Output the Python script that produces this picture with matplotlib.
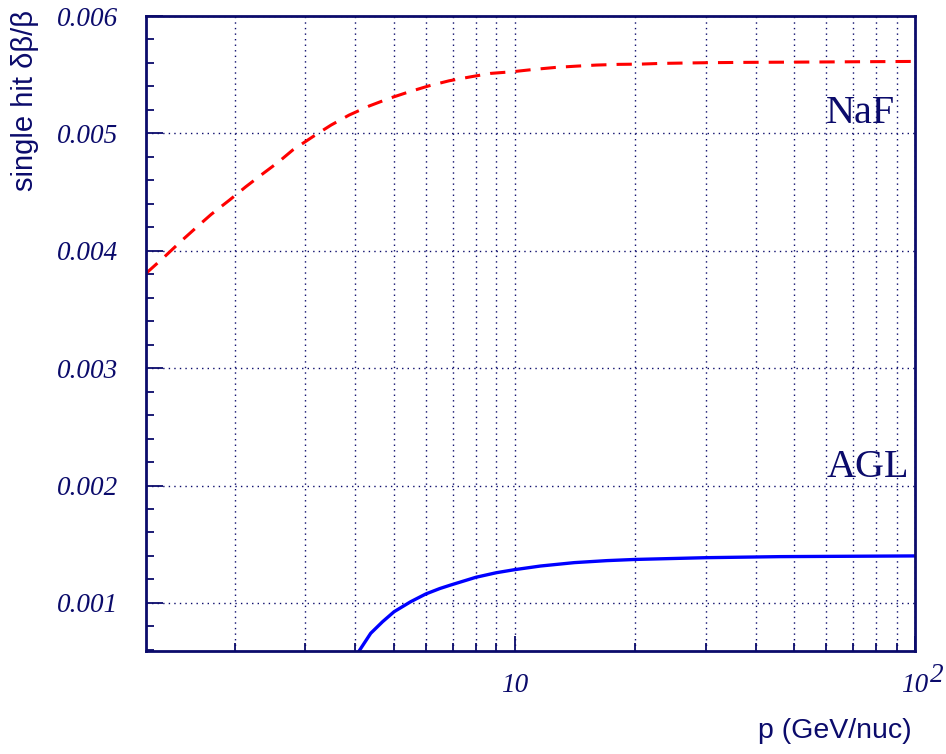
import matplotlib
matplotlib.use("Agg")
import matplotlib.pyplot as plt
from matplotlib.ticker import NullFormatter

# Data
naf_p = [1.2, 1.335, 1.47, 1.6, 1.746, 1.94, 2.13, 2.326, 2.575, 2.79, 3.13, 3.48, 3.86, 4.33,
         4.86, 5.45, 6.11, 6.86, 7.77, 8.71, 9.86, 11.17, 12.66, 14.3, 16.0, 18.2, 20.6, 23.1,
         26.2, 30.0, 37.7, 50.4, 70.0, 100.0]
naf_res = [0.003807, 0.003949, 0.004083, 0.004196, 0.004310, 0.004432, 0.004545, 0.004645,
           0.004758, 0.004858, 0.004971, 0.005071, 0.005156, 0.005233, 0.005298, 0.005354,
           0.005405, 0.005448, 0.005482, 0.005511, 0.005525, 0.005545, 0.005562, 0.005573,
           0.005582, 0.005588, 0.00559, 0.005596, 0.005599, 0.005602, 0.005605, 0.005607,
           0.00561, 0.005613]

agl_p = [4.06, 4.37, 4.68, 5.0, 5.5, 6.0, 6.5, 6.92, 7.69, 8.0, 9.0, 10.0, 11.6, 14.1,
         17.0, 20.0, 30.0, 46.0, 100.0]
agl_res = [0.000575, 0.000741, 0.00084, 0.000925, 0.00101, 0.001076, 0.001122,
           0.001152, 0.0012, 0.001218, 0.001257, 0.001283, 0.001314, 0.001343, 0.00136,
           0.00137, 0.001385, 0.001394, 0.0014]

y_major = [0.001, 0.002, 0.003, 0.004, 0.005, 0.006]
y_labels = ["0.001", "0.002", "0.003", "0.004", "0.005", "0.006"]
x_major = [10, 100]
x_labels = ["10", "10"]
x_minor = [2, 3, 4, 5, 6, 7, 8, 9, 20, 30, 40, 50, 60, 70, 80, 90]

navy = "#0b0b6b"

fig = plt.figure(figsize=(9.46, 7.54), dpi=100)
ax = fig.add_axes([146 / 946, 1 - 651 / 754, 769 / 946, 635 / 754])

ax.plot(naf_p, naf_res, color="#ff0000", lw=2.2, dashes=(5, 3.3))
ax.plot(agl_p, agl_res, color="#0000ff", lw=2.4)

ax.set_xscale("log")
ax.set_xlim(1.2, 100)
ax.set_ylim(0.00059, 0.006)

tick_font = dict(fontfamily="Liberation Serif", fontstyle="italic", fontsize=19.5, color=navy)
ax.set_yticks(y_major, y_labels, **tick_font)
ax.set_yticks([0.0006 + 0.0002 * i for i in range(28)], minor=True)
ax.set_xticks(x_major, x_labels, **tick_font)
ax.set_xticks(x_minor, minor=True)
ax.xaxis.set_minor_formatter(NullFormatter())
ax.yaxis.set_minor_formatter(NullFormatter())

ax.tick_params(axis="y", which="major", direction="in", length=12, width=1.3, color=navy, pad=20)
ax.tick_params(axis="y", which="minor", direction="in", length=6, width=1.3, color=navy)
ax.tick_params(axis="x", which="major", direction="in", length=11, width=1.3, color=navy, pad=15.5)
ax.tick_params(axis="x", which="minor", direction="in", length=6, width=1.3, color=navy)

# superscript of 10^2
ax.annotate("2", xy=(1, 0), xycoords="axes fraction", xytext=(11, -22),
            textcoords="offset points", ha="left", va="baseline", **tick_font)

ax.grid(True, which="major", axis="y", color=navy, linestyle=(0, (1, 3)), lw=1)
ax.grid(True, which="both", axis="x", color=navy, linestyle=(0, (1, 3)), lw=1)

for s in ax.spines.values():
    s.set_color(navy)
    s.set_linewidth(2)

ax.text(60, 0.005085, "NaF", fontfamily="Liberation Serif", fontsize=29, color=navy)
ax.text(60, 0.002072, "AGL", fontfamily="Liberation Serif", fontsize=29, color=navy)

fig.text(912 / 946, 1 - 737.5 / 754, "p (GeV/nuc)", ha="right", va="baseline",
         fontfamily="Liberation Sans", fontsize=20.5, color=navy)
fig.text(33 / 946, 1 - 10 / 754, "single hit \u03b4\u03b2/\u03b2", rotation=90,
         rotation_mode="anchor", ha="right", va="baseline",
         fontfamily="Liberation Sans", fontsize=21, color=navy)

fig.savefig("out.png", dpi=100)
